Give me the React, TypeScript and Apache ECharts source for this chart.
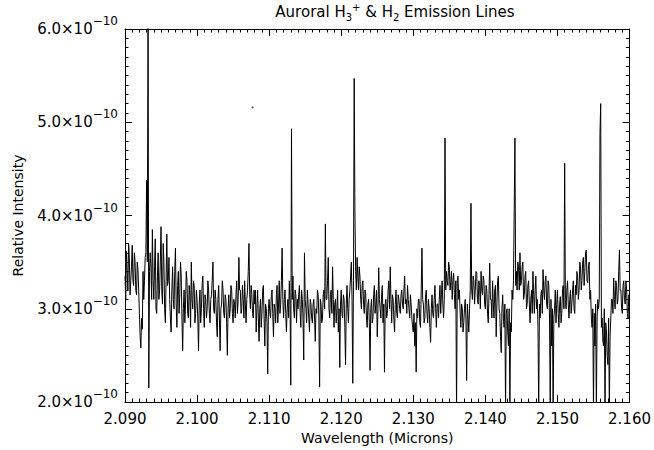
import React, { useEffect, useRef } from "react";
import * as echarts from "echarts";

// Wavelength sampling (microns)
const WAVE_START = 2.09;
const WAVE_STEP = 0.0001;

// Relative intensity in units of 1e-10
const INTENSITY = [
  3.35, 3.1, 3.62, 3.4, 3.2, 3.7, 3.55, 3.15, 3.3, 3.45, 3.68, 3.3, 3.25, 3.6, 3.5, 3.2, 3.15, 3.5, 3.42, 3.2,
  2.95, 2.7, 2.58, 2.9, 2.78, 3.4, 3.1, 3.3, 3.55, 3.6, 4.38, 3.5, 6.3, 2.15, 3.4, 3.6, 3.45, 3.1, 3.85, 3.3,
  3.1, 3.45, 3.75, 3.0, 2.95, 3.35, 3.6, 3.1, 3.2, 3.5, 3.88, 3.2, 3.05, 3.7, 3.5, 3.0, 2.85, 3.3, 3.8, 3.25,
  3.3, 3.55, 3.1, 2.9, 2.75, 3.2, 3.45, 3.1, 3.0, 3.4, 3.65, 3.05, 2.8, 3.25, 3.4, 2.95, 3.15, 3.5, 3.35, 2.9,
  2.55, 3.0, 3.2, 2.85, 3.05, 3.4, 3.3, 2.95, 2.9, 3.25, 3.15, 2.8, 3.5, 3.1, 3.0, 3.3, 3.25, 2.85, 2.95, 3.2,
  3.1, 2.9, 2.55, 3.05, 3.2, 2.85, 3.0, 3.25, 3.35, 3.0, 2.8, 3.15, 3.1, 2.9, 3.0, 3.3, 3.2, 2.95, 2.85, 3.1,
  3.15, 3.3, 3.5, 3.0, 2.95, 3.2, 3.1, 2.85, 2.7, 3.1, 3.25, 2.9, 2.55, 3.0, 3.05, 3.3, 3.2, 2.95, 2.9, 3.15,
  3.1, 2.85, 2.5, 3.0, 3.15, 2.9, 3.0, 3.25, 3.2, 2.95, 2.85, 3.1, 3.05, 2.9, 3.15, 3.3, 2.95, 3.1, 3.55, 3.2,
  3.2, 2.95, 3.0, 3.25, 3.1, 2.9, 3.3, 3.05, 2.85, 3.1, 3.2, 3.4, 3.7, 3.15, 3.0, 3.25, 3.15, 2.95, 2.9, 3.2,
  3.05, 3.2, 2.75, 3.0, 3.2, 2.9, 2.65, 3.0, 3.1, 2.8, 2.95, 3.2, 3.25, 2.9, 2.6, 3.05, 3.0, 2.85, 2.3, 3.0,
  3.1, 2.95, 2.9, 3.15, 3.2, 2.95, 2.7, 3.05, 3.0, 2.85, 3.15, 3.25, 2.85, 3.05, 3.3, 2.95, 3.05, 3.3, 3.65, 3.1,
  2.9, 3.1, 3.2, 2.95, 2.75, 3.0, 3.1, 2.9, 3.3, 3.05, 2.18, 4.93, 3.1, 3.35, 3.0, 2.9, 3.2, 3.15, 2.85, 3.1,
  3.0, 3.15, 3.25, 2.95, 2.8, 3.2, 3.1, 2.9, 2.45, 3.6, 3.1, 3.0, 2.85, 3.2, 3.05, 2.9, 2.75, 3.1, 3.05, 2.9,
  2.85, 3.05, 3.1, 2.9, 2.65, 3.0, 2.95, 3.2, 3.15, 2.9, 2.16, 3.1, 3.05, 2.85, 2.9, 3.15, 3.2, 3.0, 3.91, 3.1,
  3.1, 3.3, 3.55, 3.0, 2.9, 3.15, 3.2, 2.95, 3.45, 3.1, 2.8, 3.05, 3.1, 2.85, 3.0, 3.2, 2.75, 3.0, 2.37, 3.05,
  3.2, 2.95, 2.9, 3.15, 3.1, 2.8, 2.4, 3.05, 3.25, 3.0, 2.85, 3.1, 3.2, 3.35, 3.5, 3.1, 2.2, 3.3, 5.47, 4.05,
  3.4, 3.2, 3.55, 3.35, 3.2, 3.45, 3.34, 3.1, 3.0, 3.25, 3.3, 3.05, 2.95, 3.2, 3.15, 2.9, 2.8, 3.05, 3.1, 2.85,
  2.34, 3.0, 3.1, 2.85, 2.9, 3.15, 3.25, 2.95, 3.05, 3.2, 2.7, 3.0, 3.44, 3.1, 3.0, 2.9, 3.15, 3.25, 2.85, 3.05,
  2.32, 3.05, 3.1, 2.9, 2.95, 3.2, 3.3, 3.0, 3.45, 3.1, 2.85, 3.15, 3.1, 2.9, 2.75, 3.05, 3.2, 2.95, 2.9, 3.15,
  3.1, 3.0, 2.95, 3.15, 3.2, 3.05, 3.0, 3.2, 3.35, 3.05, 3.1, 2.95, 3.25, 3.1, 3.0, 2.9, 3.15, 3.05, 2.9, 2.8,
  2.75, 2.95, 2.6, 2.85, 2.32, 3.0, 2.9, 3.1, 3.1, 2.85, 2.8, 3.2, 3.65, 3.1, 3.05, 2.85, 2.9, 3.15, 3.2, 2.95,
  2.85, 3.1, 3.0, 2.8, 2.64, 3.0, 3.15, 2.95, 2.9, 3.1, 3.25, 3.0, 2.8, 3.05, 3.05, 2.9, 3.1, 3.25, 2.95, 3.15,
  3.3, 3.05, 2.9, 3.1, 4.83, 3.2, 3.4, 3.3, 3.25, 3.5, 3.45, 3.2, 3.3, 3.4, 3.1, 3.3, 3.38, 3.15, 3.0, 3.3,
  1.9, 3.3, 3.35, 3.1, 3.2, 2.95, 2.8, 3.05, 3.0, 2.75, 2.85, 3.0, 3.1, 2.9, 2.23, 3.05, 2.9, 2.75, 3.0, 3.2,
  4.13, 3.2, 3.1, 3.35, 3.3, 3.05, 3.2, 3.4, 3.38, 3.1, 3.05, 3.3, 3.25, 3.0, 3.4, 3.2, 3.15, 3.35, 3.3, 3.05,
  3.0, 3.25, 3.2, 2.95, 2.85, 3.15, 3.49, 3.1, 3.1, 2.9, 3.3, 3.05, 2.9, 3.2, 3.25, 2.7, 3.05, 3.3, 3.35, 3.0,
  2.95, 2.7, 2.53, 3.0, 3.15, 2.9, 2.8, 3.05, 1.9, 2.95, 3.0, 2.75, 2.6, 3.0, 1.9, 2.85, 2.75, 3.2, 3.1, 3.3,
  4.06, 4.83, 3.25, 3.4, 3.2, 3.5, 3.45, 3.2, 3.6, 3.25, 3.3, 3.45, 3.5, 3.1, 3.15, 3.35, 3.4, 3.0, 3.05, 3.25,
  3.3, 3.05, 2.85, 3.1, 3.2, 2.95, 3.4, 3.15, 2.95, 3.2, 3.35, 3.0, 3.1, 2.8, 1.9, 3.05, 2.9, 3.15, 3.2, 2.95,
  3.42, 3.2, 3.1, 3.3, 3.35, 3.05, 3.0, 3.3, 3.25, 2.9, 1.9, 3.1, 2.6, 3.0, 1.9, 2.9, 3.0, 3.2, 2.85, 3.05,
  3.2, 2.95, 2.8, 3.05, 3.13, 2.85, 2.95, 3.2, 3.25, 3.0, 4.56, 3.1, 3.0, 3.2, 3.3, 3.05, 2.9, 3.1, 3.2, 2.95,
  3.05, 3.2, 3.3, 3.0, 2.95, 3.25, 3.15, 3.4, 3.35, 3.1, 3.2, 3.5, 3.45, 3.2, 3.3, 3.5, 3.55, 3.25, 3.4, 3.6,
  3.63, 3.3, 3.28, 3.45, 3.5, 3.1, 3.2, 2.9, 2.8, 3.0, 1.9, 2.95, 2.6, 3.05, 1.9, 2.9, 3.1, 3.0, 3.1, 4.88,
  5.2, 2.8, 2.9, 2.65, 2.6, 3.0, 1.9, 2.85, 2.75, 2.5, 2.4, 2.9, 1.9, 2.7, 2.9, 3.1, 3.1, 2.95, 3.33, 3.1,
  3.0, 3.3, 3.25, 3.05, 3.1, 3.4, 3.63, 3.2, 3.2, 3.0, 2.95, 3.25, 3.3, 3.1, 3.05, 3.3, 3.2, 2.95, 2.9, 3.15, 3.1,
];

// Stray speck on the plot
const SPECK = [[2.1077, 5.16]];

const X_MIN = 2.09;
const X_MAX = 2.16;
const X_INTERVAL = 0.01;
const Y_MIN = 2;
const Y_MAX = 6;
const Y_INTERVAL = 1;

const FONT = "DejaVu Sans";

export default function App() {
  const ref = useRef<HTMLDivElement>(null);

  useEffect(() => {
    if (!ref.current) return;
    const chart = echarts.init(ref.current, undefined, { renderer: "svg" });
    const data = INTENSITY.map((v, i) => [WAVE_START + i * WAVE_STEP, v]);

    const axisCommon = {
      axisLine: { show: true, onZero: false, lineStyle: { color: "#000", width: 1 } },
      axisTick: { show: true, inside: true, length: 7, lineStyle: { color: "#000", width: 1 } },
      minorTick: { show: true, splitNumber: 10, length: 3.5, lineStyle: { color: "#000", width: 1 } },
      splitLine: { show: false },
      minorSplitLine: { show: false },
    };

    chart.setOption({
      animation: false,
      backgroundColor: "#fff",
      title: {
        text: "{t|Auroral H}{sub|3}{sup|+}{t| & H}{sub|2}{t| Emission Lines}",
        left: 390,
        top: -3,
        textAlign: "center",
        textStyle: {
          fontWeight: "normal",
          rich: {
            t: { fontFamily: FONT, fontSize: 15, fontWeight: "normal", color: "#000", lineHeight: 20 },
            sub: { fontFamily: FONT, fontSize: 10, fontWeight: "normal", color: "#000", lineHeight: 10, verticalAlign: "bottom" },
            sup: { fontFamily: FONT, fontSize: 10, fontWeight: "normal", color: "#000", lineHeight: 10, verticalAlign: "top" },
          },
        },
      },
      grid: { left: 125, right: 22, top: 29, bottom: 48, containLabel: false },
      xAxis: [
        {
          type: "value",
          position: "bottom",
          min: X_MIN,
          max: X_MAX,
          interval: X_INTERVAL,
          ...axisCommon,
          axisLabel: {
            show: true,
            margin: 9,
            color: "#000",
            fontFamily: FONT,
            fontSize: 15,
            showMinLabel: true,
            showMaxLabel: true,
            formatter: (v: number) => v.toFixed(3),
          },
          name: "Wavelength (Microns)",
          nameLocation: "middle",
          nameGap: 28,
          nameTextStyle: { color: "#000", fontFamily: FONT, fontSize: 14 },
        },
        {
          type: "value",
          position: "top",
          min: X_MIN,
          max: X_MAX,
          interval: X_INTERVAL,
          ...axisCommon,
          axisLabel: { show: false },
        },
      ],
      yAxis: [
        {
          type: "value",
          position: "left",
          min: Y_MIN,
          max: Y_MAX,
          interval: Y_INTERVAL,
          ...axisCommon,
          axisLabel: {
            show: true,
            margin: 7,
            showMinLabel: true,
            showMaxLabel: true,
            formatter: (v: number) => `{b|${v.toFixed(1)}×10}{s|−10}`,
            rich: {
              b: { fontFamily: FONT, fontSize: 15, color: "#000", lineHeight: 28 },
              s: { fontFamily: FONT, fontSize: 12, color: "#000", lineHeight: 12, verticalAlign: "top" },
            },
          },
          name: "Relative Intensity",
          nameLocation: "middle",
          nameGap: 100,
          nameTextStyle: { color: "#000", fontFamily: FONT, fontSize: 14 },
        },
        {
          type: "value",
          position: "right",
          min: Y_MIN,
          max: Y_MAX,
          interval: Y_INTERVAL,
          ...axisCommon,
          axisLabel: { show: false },
        },
      ],
      series: [
        {
          type: "line",
          xAxisIndex: 0,
          yAxisIndex: 0,
          data,
          showSymbol: false,
          symbol: "none",
          clip: true,
          lineStyle: { color: "#000", width: 1 },
        },
        {
          type: "scatter",
          xAxisIndex: 0,
          yAxisIndex: 0,
          data: SPECK,
          symbolSize: 2,
          itemStyle: { color: "#333" },
        },
      ],
    });

    return () => chart.dispose();
  }, []);

  return (
    <div
      ref={ref}
      style={{ position: "fixed", left: 0, top: 0, width: 654, height: 450, background: "#fff" }}
    />
  );
}
